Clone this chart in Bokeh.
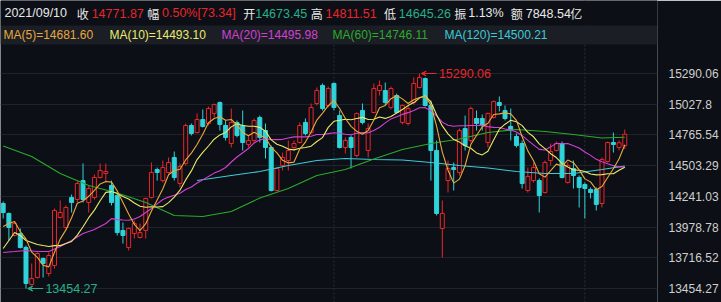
import numpy as np
import pandas as pd
from bokeh.plotting import figure
from bokeh.models import (Range1d, FixedTicker, CustomJSTickFormatter, ColumnDataSource,
                          Label, BoxAnnotation, Span, Arrow, VeeHead)
from bokeh.embed import file_html
from bokeh.resources import INLINE

# ---------------- data ----------------
opens = [14180, 14095, 13907, 13924, 13804, 13489, 13548, 13710, 13582, 13651,
         14061, 13975, 14231, 14214, 14376, 14189, 14231, 14402, 14436, 14334,
         14248, 13950, 13804, 13924, 13890, 13950, 14231, 14470, 14376, 14445,
         14573, 14351, 14522, 14846, 14786, 14897, 14863, 14949, 15042, 14846,
         14692, 14872, 14846, 14684, 14718, 14914, 14803, 14658, 14291, 14505,
         14547, 14658, 14701, 14872, 14786, 15034, 15188, 15017, 15205, 14931,
         14658, 14744, 14590, 14974, 14633, 14957, 15145, 15145, 15000, 15102,
         14872, 14863, 15042, 15171, 15247, 15017, 14633, 13967, 14376, 14487,
         14445, 14820, 14718, 14906, 14906, 14701, 14914, 15042, 14974, 14838,
         14752, 14692, 14291, 14376, 14376, 14274, 14547, 14633, 14692, 14359,
         14479, 14402, 14342, 14300, 14300, 14180, 14539, 14701, 14658, 14673.45]
closes = [14103, 13975, 14009, 13804, 13497, 13540, 13753, 13668, 13736, 14120,
          14103, 14146, 14189, 14351, 14214, 14308, 14402, 14462, 14453, 14189,
          13932, 13907, 13967, 14009, 13932, 14223, 14445, 14445, 14487, 14530,
          14402, 14496, 14846, 14778, 14897, 14838, 14991, 15025, 14855, 14744,
          14872, 14761, 14701, 14718, 14889, 14744, 14658, 14291, 14479, 14573,
          14633, 14692, 14846, 14778, 15000, 15145, 14991, 15162, 15000, 14658,
          14718, 14658, 14949, 14872, 14820, 15162, 15188, 15042, 15162, 14957,
          15017, 14991, 15205, 15256, 15017, 14633, 14095, 14095, 14479, 14470,
          14803, 14675, 14991, 14863, 14846, 14949, 15051, 15017, 14906, 14803,
          14675, 14351, 14411, 14487, 14248, 14530, 14624, 14692, 14402, 14505,
          14419, 14317, 14308, 14274, 14172, 14556, 14701, 14684, 14698.53, 14771.87]
highs = [14197, 14103, 14026, 13967, 13821, 13668, 13762, 13719, 13762, 14137,
         14206, 14163, 14257, 14368, 14522, 14334, 14428, 14522, 14522, 14376,
         14266, 14018, 13975, 14035, 14009, 14231, 14530, 14487, 14547, 14573,
         14624, 14522, 14863, 14863, 14949, 14983, 15008, 15034, 15051, 14889,
         14991, 14889, 14974, 14761, 14906, 14931, 14863, 14675, 14487, 14615,
         14718, 14718, 14872, 14906, 15034, 15171, 15205, 15179, 15213, 14974,
         14744, 14761, 14957, 15034, 14863, 15205, 15230, 15213, 15179, 15119,
         15025, 15017, 15256, 15290.06, 15256, 15060, 14718, 14206, 14547, 14530,
         14820, 14931, 15008, 14974, 14940, 14957, 15060, 15094, 15017, 14991,
         14778, 14718, 14487, 14530, 14394, 14547, 14692, 14709, 14709, 14530,
         14547, 14419, 14359, 14317, 14317, 14573, 14709, 14786, 14718, 14811.51]
lows = [14052, 13864, 13898, 13796, 13454.27, 13480, 13540, 13548, 13557, 13625,
        14052, 13958, 14103, 14189, 14189, 14103, 14214, 14394, 14359, 14163,
        13907, 13838, 13779, 13881, 13881, 13881, 14223, 14376, 14359, 14436,
        14376, 14317, 14505, 14761, 14778, 14829, 14846, 14914, 14803, 14718,
        14658, 14744, 14633, 14658, 14701, 14701, 14564, 14283, 14283, 14462,
        14462, 14633, 14692, 14761, 14778, 15017, 14974, 15000, 14974, 14650,
        14607, 14479, 14573, 14855, 14573, 14949, 15102, 15017, 14983, 14949,
        14855, 14846, 15025, 15162, 15008, 14376, 14078, 13719, 14274, 14291,
        14419, 14633, 14701, 14803, 14803, 14658, 14906, 14966, 14889, 14718,
        14658, 14308, 14274, 14359, 14103, 14266, 14505, 14624, 14394, 14351,
        14308, 14146, 14052, 14223, 14120, 14146, 14530, 14615, 14633, 14645.26]

# moving-average lead-in values (before enough closes exist)
ma5_lead = [13984, 14009, 14026, 13941]
ma10_lead = [13796, 13864, 13932, 13907, 13864, 13847, 13830, 13821, 13813]
ma20_lead_idx = [0, 2, 4, 6, 8, 10, 12, 14, 16, 18]
ma20_lead = [13762, 13770, 13779, 13770, 13770, 13813, 13864, 13924, 13958, 14009]
# long averages
ma60_idx = [0, 5, 10, 15, 20, 25, 30, 35, 40, 45, 50, 55, 60, 65, 70, 75, 80, 85, 90, 95, 100, 105, 109]
ma60_vals = [14671, 14581, 14436, 14334, 14270, 14189, 14078, 14069, 14112, 14227, 14308, 14419,
             14470, 14560, 14641, 14692, 14731, 14786, 14812, 14795, 14769, 14739, 14746.11]
ma120_idx = [34, 40, 45, 50, 55, 60, 65, 70, 75, 80, 85, 90, 95, 100, 105, 109]
ma120_vals = [14376, 14419, 14453, 14505, 14547, 14564, 14556, 14552, 14530, 14505, 14483,
              14453, 14436, 14436, 14470, 14500.21]

tick_labels = ["15290.06", "15027.8", "14765.54", "14503.29", "14241.03",
               "13978.78", "13716.52", "13454.27"]

header_date = "2021/09/10"
header_items = [("收", "14771.87", "up"), ("幅", "0.50%[73.34]", "up"), ("开", "14673.45", "down"),
                ("高", "14811.51", "up"), ("低", "14645.26", "down"), ("振", "1.13%", "plain"),
                ("额", "7848.54亿", "plain")]
ma_legend = [("MA(5)=14681.60", "#e9a93c"), ("MA(10)=14493.10", "#ecea6a"),
             ("MA(20)=14495.98", "#d63fd6"), ("MA(60)=14746.11", "#2bab2b"),
             ("MA(120)=14500.21", "#3ccbd8")]

# ---------------- layout / style ----------------
W, H = 721, 302
FRAME_W = 663
BG = "#0c0f15"
ROW2_BG = "#1b1e25"
RED = "#e8262b"
CYAN = "#2fd3da"
GREEN_TXT = "#27b08a"
WHITE = "#e8e8e8"

n = len(closes)
xs = np.arange(n)
tick_vals = [float(s) for s in tick_labels]
hi, lo = max(tick_vals), min(tick_vals)
upp = (hi - lo) / (288 - 73)          # value units per pixel
y_top = hi + 73 * upp
y_bot = lo - (H - 288) * upp
step = 5.755                           # pixels per candle
x_start = -2.7 / step
x_end = x_start + FRAME_W / step


def px_x(px):
    return x_start + px / step


def px_y(py):
    return y_top - py * upp


p = figure(width=W, height=H, x_range=Range1d(x_start, x_end), y_range=Range1d(y_bot, y_top),
           x_axis_location=None, y_axis_location="right", toolbar_location=None,
           output_backend="svg", min_border_left=0, min_border_right=W - FRAME_W,
           min_border_top=0, min_border_bottom=0,
           background_fill_color=BG, border_fill_color=BG, outline_line_color=None)

ticker = FixedTicker(ticks=tick_vals)
p.xgrid.visible = False
p.ygrid.ticker = ticker
p.ygrid.grid_line_color = "#1f232b"
p.ygrid.grid_line_width = 1
ax = p.yaxis[0]
ax.ticker = ticker
ax.formatter = CustomJSTickFormatter(code="return tick.toString();")
ax.axis_line_color = None
ax.major_tick_line_color = None
ax.minor_tick_line_color = None
ax.major_label_standoff = 5
ax.major_label_text_color = "#cfcfcf"
ax.major_label_text_font = "Liberation Sans"
ax.major_label_text_font_size = "12px"

# month separators (first trading day of Jul and Sep)
for loc in [58, 102]:
    p.add_layout(Span(location=loc, dimension="height", line_color="#2b2f38",
                      line_dash="2 2", line_width=1, level="underlay"))

# ---------------- candles ----------------
o = np.array(opens, float)
c = np.array(closes, float)
up = c >= o
src = ColumnDataSource(dict(
    x=xs, high=highs, low=lows,
    top=np.maximum(o, c), bottom=np.minimum(o, c),
    color=[RED if u else CYAN for u in up],
    fill=[BG if u else CYAN for u in up],
))
p.segment(x0="x", y0="high", x1="x", y1="low", line_color="color", line_width=1, source=src)
p.vbar(x="x", width=0.7, top="top", bottom="bottom", fill_color="fill",
       line_color="color", line_width=1, source=src)

# ---------------- moving averages ----------------
cs = pd.Series(c)
ma5 = list(ma5_lead) + list(cs.rolling(5).mean().iloc[4:])
ma10 = list(ma10_lead) + list(cs.rolling(10).mean().iloc[9:])
ma20_x = list(ma20_lead_idx) + list(range(19, n))
ma20 = list(ma20_lead) + list(cs.rolling(20).mean().iloc[19:])

p.line(ma120_idx, ma120_vals, line_color=ma_legend[4][1], line_width=1.1)
p.line(ma60_idx, ma60_vals, line_color=ma_legend[3][1], line_width=1.1)
p.line(ma20_x, ma20, line_color=ma_legend[2][1], line_width=1.1)
p.line(list(xs), ma10, line_color=ma_legend[1][1], line_width=1.1)
p.line(list(xs), ma5, line_color=ma_legend[0][1], line_width=1.1)

# ---------------- extreme markers ----------------
imin = int(np.argmin(lows))
imax = int(np.argmax(highs))
for idx, val, col in [(imin, lows[imin], GREEN_TXT), (imax, highs[imax], RED)]:
    p.add_layout(Arrow(end=VeeHead(size=5, line_color=col, fill_color=col, line_width=1),
                       x_start=idx + 3.0, y_start=val, x_end=idx + 0.3, y_end=val,
                       line_color=col, line_width=1))
    p.add_layout(Label(x=idx + 3.4, y=val, text=f"{val:.2f}", text_color=col,
                       text_font="Liberation Sans", text_font_size="12.5px",
                       text_baseline="middle", text_align="left"))

# ---------------- header ----------------
p.add_layout(BoxAnnotation(left=x_start, right=x_end, top=px_y(0), bottom=px_y(25),
                           fill_color=BG, fill_alpha=1, line_color=None))
p.add_layout(BoxAnnotation(left=x_start, right=x_end, top=px_y(25), bottom=px_y(44),
                           fill_color=ROW2_BG, fill_alpha=1, line_color=None))


def add_text(px, py, text, color, size="12.5px", font="Liberation Sans"):
    p.add_layout(Label(x=px_x(px), y=px_y(py), text=text, text_color=color,
                       text_font=font, text_font_size=size,
                       text_baseline="middle", text_align="left"))


add_text(4, 12.5, header_date, WHITE)
key_px = [77, 148, 245, 313, 387, 458, 515]
val_px = [92, 163, 257, 328, 402, 472, 530]
colmap = {"up": RED, "down": GREEN_TXT, "plain": WHITE}
for (k, v, kind), kx, vx in zip(header_items, key_px, val_px):
    add_text(kx, 12.5, k, WHITE, size="12px", font="Noto Sans CJK SC")
    if v.endswith("亿"):
        add_text(vx, 12.5, v[:-1], colmap[kind])
        add_text(vx + 45, 12.5, "亿", colmap[kind], size="12px", font="Noto Sans CJK SC")
    else:
        add_text(vx, 12.5, v, colmap[kind])

leg_px = [3, 110, 223, 335, 448]
for (t, col), lx in zip(ma_legend, leg_px):
    add_text(lx, 34.5, t, col, size="12px")

open("out.html", "w").write(file_html(p, INLINE))
